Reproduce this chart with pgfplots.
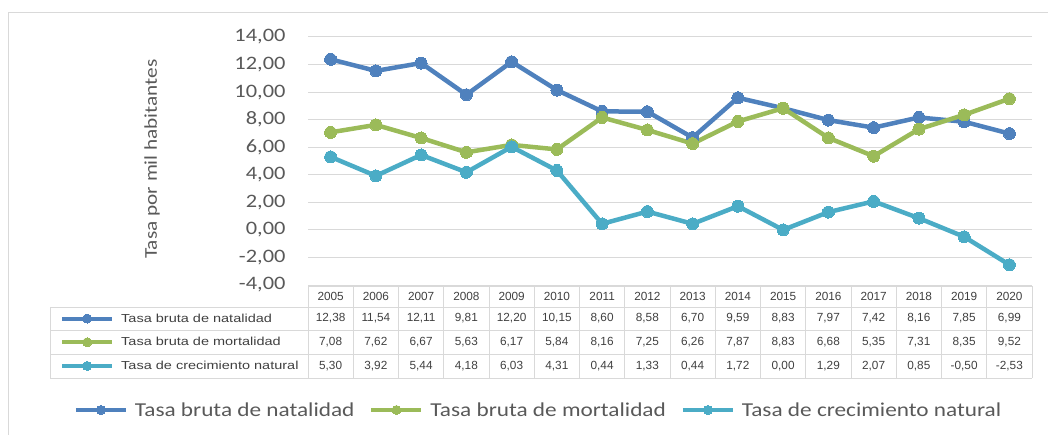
\documentclass[border=0pt]{standalone}
\usepackage{fontspec}
\usepackage{pgfplots}
\usepackage{pgfplotstable}
\pgfplotsset{compat=1.18}
\setmainfont{Carlito}
\newfontfamily\calib[FakeStretch=1.18]{Carlito}
\newfontfamily\arialn{Liberation Sans}
\newfontfamily\arialw[FakeStretch=1.25]{Liberation Sans}
\definecolor{cnat}{HTML}{4F81BD}
\definecolor{cmor}{HTML}{9BBB59}
\definecolor{ccre}{HTML}{4BACC6}
\definecolor{txt}{HTML}{595959}
\definecolor{tbl}{HTML}{404040}
\definecolor{grd}{HTML}{D9D9D9}
\pgfplotstableread{
idx year nat mor cre
0 2005 12.38 7.08 5.30
1 2006 11.54 7.62 3.92
2 2007 12.11 6.67 5.44
3 2008 9.81 5.63 4.18
4 2009 12.20 6.17 6.03
5 2010 10.15 5.84 4.31
6 2011 8.60 8.16 0.44
7 2012 8.58 7.25 1.33
8 2013 6.70 6.26 0.44
9 2014 9.59 7.87 1.72
10 2015 8.83 8.83 0.00
11 2016 7.97 6.68 1.29
12 2017 7.42 5.35 2.07
13 2018 8.16 7.31 0.85
14 2019 7.85 8.35 -0.50
15 2020 6.99 9.52 -2.53
}\datatable
\pgfkeys{/pgf/number format/.cd, fixed, fixed zerofill, precision=2, use comma, assume math mode=true}
\pgfplotsset{
  serie/.style={#1, line width=4.5pt, mark=*, mark size=6pt, mark options={solid, fill=#1, draw=#1, line width=0pt}},
}
\tikzset{tblfont/.style={font=\arialn\fontsize{11.8}{12}\selectfont, text=tbl, inner sep=0pt}}
\begin{document}
\begin{tikzpicture}[x=1pt,y=1pt]
\useasboundingbox (0,0) rectangle (1048,434);
\draw[grd, line width=1pt] (8,-5) -- (8,421) -- (1060,421);
\begin{axis}[
  at={(308pt,149pt)}, anchor=south west, scale only axis,
  width=724pt, height=248pt,
  xmin=-0.5, xmax=15.5, ymin=-4, ymax=14,
  ytick={-4,-2,0,2,4,6,8,10,12,14}, xtick=\empty,
  axis line style={draw=none}, major tick length=0pt,
  ymajorgrids, grid style={grd, line width=1pt},
  yticklabel style={font=\calib\fontsize{19}{19}\selectfont, text=txt, xshift=-19pt},
  ylabel={Tasa por mil habitantes},
  every axis y label/.style={at={(axis description cs:-0.2155,0.508)}, rotate=90, anchor=center, font=\calib\fontsize{18}{18}\selectfont, text=txt},
  clip=false,
  legend columns=3,
  legend style={at={(axis description cs:0.317,-0.504)}, anchor=center, draw=none, fill=none, inner sep=0pt, font=\calib\fontsize{19.7}{20}\selectfont, text=txt, nodes={inner sep=0pt}, /tikz/every odd column/.append style={column sep=7pt}, /tikz/every even column/.append style={column sep=15pt}},
  legend image code/.code={\draw[mark repeat=2, mark phase=2, #1] plot coordinates {(0pt,0pt) (25pt,0pt) (50pt,0pt)};},
  legend image post style={line width=4pt, mark size=4.5pt},
]
\addplot[serie=cnat] table[x=idx,y=nat]{\datatable};
\addlegendentry{Tasa bruta de natalidad}
\addplot[serie=cmor] table[x=idx,y=mor]{\datatable};
\addlegendentry{Tasa bruta de mortalidad}
\addplot[serie=ccre] table[x=idx,y=cre]{\datatable};
\addlegendentry{Tasa de crecimiento natural}
\end{axis}
\begin{axis}[at={(308pt,149pt)}, anchor=south west, scale only axis, width=724pt, height=248pt,
  hide axis, xmin=0, xmax=1, ymin=0, ymax=1,
  legend columns=1, legend cell align=left,
  legend style={at={(axis description cs:-0.3425,-0.0867)}, anchor=north west, draw=none, fill=none, inner sep=0pt, row sep=0pt, font=\arialw\fontsize{11.6}{12}\selectfont, text=tbl, nodes={inner sep=0pt, minimum height=23.7pt}, /tikz/every odd column/.append style={column sep=7pt}},
  legend image code/.code={\draw[mark repeat=2, mark phase=2, #1] plot coordinates {(0pt,0pt) (25pt,0pt) (50pt,0pt)};},
  legend image post style={line width=4pt, mark size=4.5pt},
]
\addlegendimage{serie=cnat}
\addlegendentry{Tasa bruta de natalidad}
\addlegendimage{serie=cmor}
\addlegendentry{Tasa bruta de mortalidad}
\addlegendimage{serie=ccre}
\addlegendentry{Tasa de crecimiento natural}
\end{axis}
% data table grid
\draw[grd, line width=1pt] (308,148) -- (1032,148);
\foreach \yy in {127,104,80,56} \draw[grd, line width=1pt] (50,\yy) -- (1032,\yy);
\draw[grd, line width=1pt] (50,127) -- (50,56);
\foreach \k in {0,...,16} {\pgfmathsetmacro\xx{308+45.25*\k}\draw[grd, line width=1pt] (\xx,148) -- (\xx,56);}
% data table values
\foreach \i in {0,...,15}{
  \pgfmathsetmacro{\cx}{308+45.25*(\i+0.5)}
  \pgfplotstablegetelem{\i}{year}\of\datatable
  \node[tblfont] at (\cx,137.5) {\pgfplotsretval};
  \pgfplotstablegetelem{\i}{nat}\of\datatable
  \node[tblfont] at (\cx,115.5) {\pgfmathprintnumber{\pgfplotsretval}};
  \pgfplotstablegetelem{\i}{mor}\of\datatable
  \node[tblfont] at (\cx,92) {\pgfmathprintnumber{\pgfplotsretval}};
  \pgfplotstablegetelem{\i}{cre}\of\datatable
  \node[tblfont] at (\cx,68) {\pgfmathprintnumber{\pgfplotsretval}};
}
\end{tikzpicture}
\end{document}
